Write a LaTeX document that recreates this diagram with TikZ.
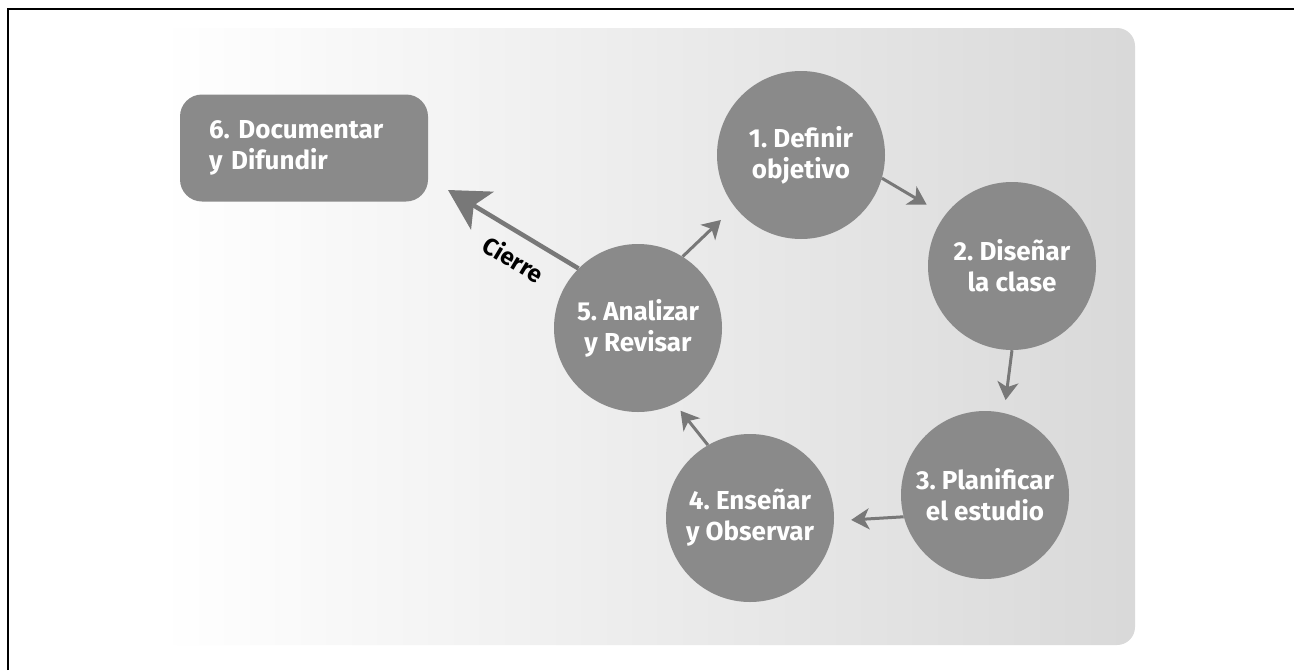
\documentclass[tikz,border=0pt]{standalone}
\usepackage{fontspec}
\setmainfont{Fira Sans}
\usetikzlibrary{arrows.meta}
\definecolor{circgray}{RGB}{138,138,138}
\definecolor{arrgray}{RGB}{120,120,120}
\frenchspacing
\begin{document}
\begin{tikzpicture}[x=1pt,y=-1pt,
  stage/.style={circle, fill=circgray, minimum size=168pt, inner sep=0pt, text=white,
    font=\fontsize{26}{31}\selectfont\bfseries\frenchspacing, align=center},
  finalbox/.style={rounded corners=22pt, fill=circgray, minimum width=248pt, minimum height=107pt,
    text width=190pt, inner xsep=29pt, inner ysep=0pt, text=white, align=left,
    font=\fontsize{26}{31}\selectfont\bfseries\frenchspacing},
  arr/.style={draw=arrgray, line width=3pt, -{Stealth[length=18pt,width=21pt,inset=5pt]}},
  bigarr/.style={draw=arrgray, line width=4.5pt, -{Stealth[length=40pt,width=44pt,inset=10pt]}},
  lbl/.style={text=black, inner sep=1pt, font=\fontsize{24}{28}\selectfont\bfseries}
]
\useasboundingbox (0,0) rectangle (1294,670);
\fill[white] (0,0) rectangle (1294,670);
% panel
\shade[left color=white, right color=black!15, rounded corners=18pt] (160,28) rectangle (1135,645);
% frame
\draw[line width=2.5pt] (8,670) -- (8,9) -- (1294,9);

% nodes
\node[stage] (n1) at (801,155) {1. Definir\\objetivo};
\node[stage] (n2) at (1012,266) {2. Diseñar\\la clase};
\node[stage] (n3) at (985,495) {3. Planificar\\el estudio};
\node[stage] (n4) at (750,518) {4. Enseñar\\y Observar};
\node[stage] (n5) at (638,328) {5. Analizar\\y Revisar};
\node[finalbox] (n6) at (304,148) {6. Documentar\\y Difundir};
\coordinate (c6) at (448,190);

% connectors
\draw[arr, shorten >=21pt] (n1.-16) -- (n2.143);
\draw[arr, shorten >=13pt] (n2.south) -- (n3.77);
\draw[arr, shorten >=17pt] (n3.195) -- (n4.-2);
\draw[arr, shorten >=9pt] (n4.120) -- (n5.-64);
\draw[arr, shorten >=19pt] (n5.58) -- (n1.218);
\draw[bigarr] (n5.135) -- (c6);
\node[lbl, rotate=-31] (cierre) at (514,259) {Cierre};
\end{tikzpicture}
\end{document}
